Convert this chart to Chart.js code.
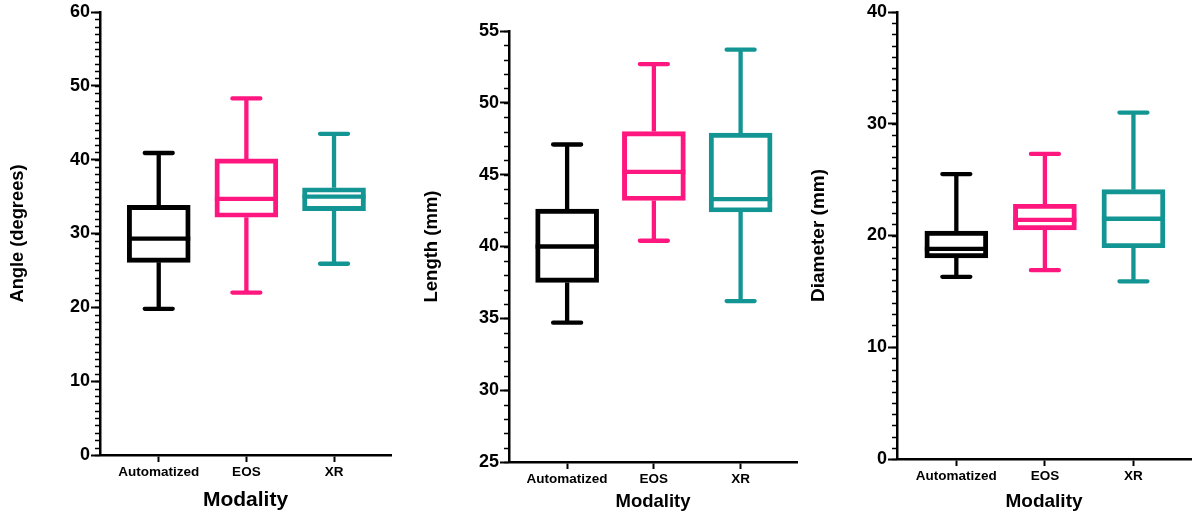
<!DOCTYPE html>
<html>
<head>
<meta charset="utf-8">
<script src="https://cdn.jsdelivr.net/npm/chart.js@4/dist/chart.umd.min.js"></script>
<style>
body { margin: 0; background: #fff; }
.panel { position: absolute; top: 0; }
</style>
</head>
<body>
<div class="panel" style="left:0px"><canvas id="angleChart" width="400" height="516"></canvas></div>
<div class="panel" style="left:400px"><canvas id="lengthChart" width="400" height="516"></canvas></div>
<div class="panel" style="left:800px"><canvas id="diameterChart" width="399" height="516"></canvas></div>
<script>
//-----------------------------------
const categories = ['Automatized', 'EOS', 'XR']
const boxColors = ['#000000', '#ff1780', '#139594']

// Angle (degrees)
const angleMin    = [19.8, 22.0, 25.9]
const angleQ1     = [26.1, 32.2, 33.1]
const angleMedian = [29.3, 34.7, 35.0]
const angleQ3     = [33.8, 40.1, 36.2]
const angleMax    = [40.9, 48.3, 43.5]
const angleTicks  = [0, 10, 20, 30, 40, 50, 60]

// Length (mm)
const lengthMin    = [34.7, 40.4, 36.2]
const lengthQ1     = [37.5, 43.2, 42.4]
const lengthMedian = [40.0, 45.2, 43.3]
const lengthQ3     = [42.6, 48.0, 47.9]
const lengthMax    = [47.1, 52.7, 53.7]
const lengthTicks  = [25, 30, 35, 40, 45, 50, 55]

// Diameter (mm)
const diameterMin    = [16.3, 16.9, 15.9]
const diameterQ1     = [18.0, 20.5, 18.9]
const diameterMedian = [18.8, 21.4, 21.5]
const diameterQ3     = [20.4, 22.8, 24.1]
const diameterMax    = [25.5, 27.3, 31.0]
const diameterTicks  = [0, 10, 20, 30, 40]

Chart.defaults.font.family = "'Liberation Sans', Arial, sans-serif"
Chart.defaults.font.weight = 'bold'
Chart.defaults.color = '#000'

// whiskers, medians and the small minor ticks on the y axis
const boxPlugin = {
    id: 'boxWhiskers',
    afterDatasetsDraw(chart, args, opts) {
        const ctx = chart.ctx
        const y = chart.scales.y
        const meta = chart.getDatasetMeta(0)
        const s = opts.stats
        ctx.save()
        ctx.lineWidth = 4.3
        meta.data.forEach((bar, i) => {
            const half = bar.width / 2
            ctx.strokeStyle = boxColors[i]
            ctx.lineCap = 'butt'
            ctx.beginPath()
            ctx.moveTo(bar.x - half, y.getPixelForValue(s.median[i]))
            ctx.lineTo(bar.x + half, y.getPixelForValue(s.median[i]))
            ctx.moveTo(bar.x, y.getPixelForValue(s.q3[i]))
            ctx.lineTo(bar.x, y.getPixelForValue(s.max[i]))
            ctx.moveTo(bar.x, y.getPixelForValue(s.q1[i]))
            ctx.lineTo(bar.x, y.getPixelForValue(s.min[i]))
            ctx.stroke()
            ctx.lineCap = 'round'
            ctx.beginPath()
            ctx.moveTo(bar.x - 14, y.getPixelForValue(s.max[i]))
            ctx.lineTo(bar.x + 14, y.getPixelForValue(s.max[i]))
            ctx.moveTo(bar.x - 14, y.getPixelForValue(s.min[i]))
            ctx.lineTo(bar.x + 14, y.getPixelForValue(s.min[i]))
            ctx.stroke()
        })
        ctx.restore()
    },
    afterDraw(chart, args, opts) {
        const ctx = chart.ctx
        const y = chart.scales.y
        const left = chart.chartArea.left
        ctx.save()
        ctx.strokeStyle = '#000'
        ctx.lineWidth = 1.6
        ctx.beginPath()
        for (let v = y.min; v <= y.max; v += opts.minorStep) {
            const py = Math.round(y.getPixelForValue(v)) + 0.5
            ctx.moveTo(left - 5, py)
            ctx.lineTo(left, py)
        }
        ctx.stroke()
        ctx.restore()
    }
}

function makeBoxChart(id, p) {
    const ctx = document.getElementById(id).getContext('2d')
    return new Chart(ctx, {
        type: 'bar',
        data: {
            datasets: [{
                data: categories.map((c, i) => ({x: i, y: [p.q1[i], p.q3[i]]})),
                backgroundColor: 'rgba(0,0,0,0)',
                borderColor: boxColors,
                borderWidth: 4.3,
                borderSkipped: false,
                barThickness: 63
            }]
        },
        plugins: [boxPlugin],
        options: {
            responsive: false,
            animation: false,
            layout: {padding: p.padding},
            plugins: {
                legend: {display: false},
                tooltip: {enabled: false},
                boxWhiskers: {stats: p, minorStep: 1}
            },
            scales: {
                x: {
                    type: 'linear',
                    offset: false,
                    min: -0.67,
                    max: 2.65,
                    afterBuildTicks: s => { s.ticks = categories.map((c, i) => ({value: i})) },
                    afterFit: s => { s.height = p.xHeight },
                    ticks: {
                        callback: v => categories[v],
                        font: {size: 13.5, weight: 'bold'},
                        padding: 2,
                        maxRotation: 0,
                        autoSkip: false
                    },
                    grid: {offset: false, drawOnChartArea: false, tickLength: 7, tickWidth: 2, tickColor: '#000'},
                    border: {color: '#000', width: 2.5},
                    title: {
                        display: true,
                        text: 'Modality',
                        font: {size: p.xTitleSize, weight: 'bold'},
                        padding: {top: 0, bottom: 3}
                    }
                },
                y: {
                    min: p.ticks[0],
                    max: p.ticks[p.ticks.length - 1],
                    afterBuildTicks: s => { s.ticks = p.ticks.map(v => ({value: v})) },
                    afterFit: s => { s.width = p.yWidth },
                    ticks: {font: {size: 18, weight: 'bold'}, padding: 1, autoSkip: false},
                    grid: {drawOnChartArea: false, tickLength: 9, tickWidth: 2, tickColor: '#000'},
                    border: {color: '#000', width: 2.5},
                    title: {
                        display: true,
                        text: p.title,
                        font: {size: p.yTitleSize, weight: 'bold'},
                        padding: {top: p.yTitlePad, bottom: 0}
                    }
                }
            }
        }
    })
}

makeBoxChart('angleChart', {
    min: angleMin, q1: angleQ1, median: angleMedian, q3: angleQ3, max: angleMax,
    ticks: angleTicks, title: 'Angle (degrees)',
    padding: {top: 12, right: 9, bottom: 0, left: 0},
    yWidth: 100, xHeight: 61, xTitleSize: 21, yTitleSize: 18.3, yTitlePad: 7
})

makeBoxChart('lengthChart', {
    min: lengthMin, q1: lengthQ1, median: lengthMedian, q3: lengthQ3, max: lengthMax,
    ticks: lengthTicks, title: 'Length (mm)',
    padding: {top: 31, right: 3, bottom: 0, left: 0},
    yWidth: 109, xHeight: 54, xTitleSize: 18.5, yTitleSize: 18.5, yTitlePad: 21
})

makeBoxChart('diameterChart', {
    min: diameterMin, q1: diameterQ1, median: diameterMedian, q3: diameterQ3, max: diameterMax,
    ticks: diameterTicks, title: 'Diameter (mm)',
    padding: {top: 12, right: 8, bottom: 0, left: 0},
    yWidth: 97, xHeight: 57, xTitleSize: 19, yTitleSize: 19, yTitlePad: 7
})
</script>
</body>
</html>
